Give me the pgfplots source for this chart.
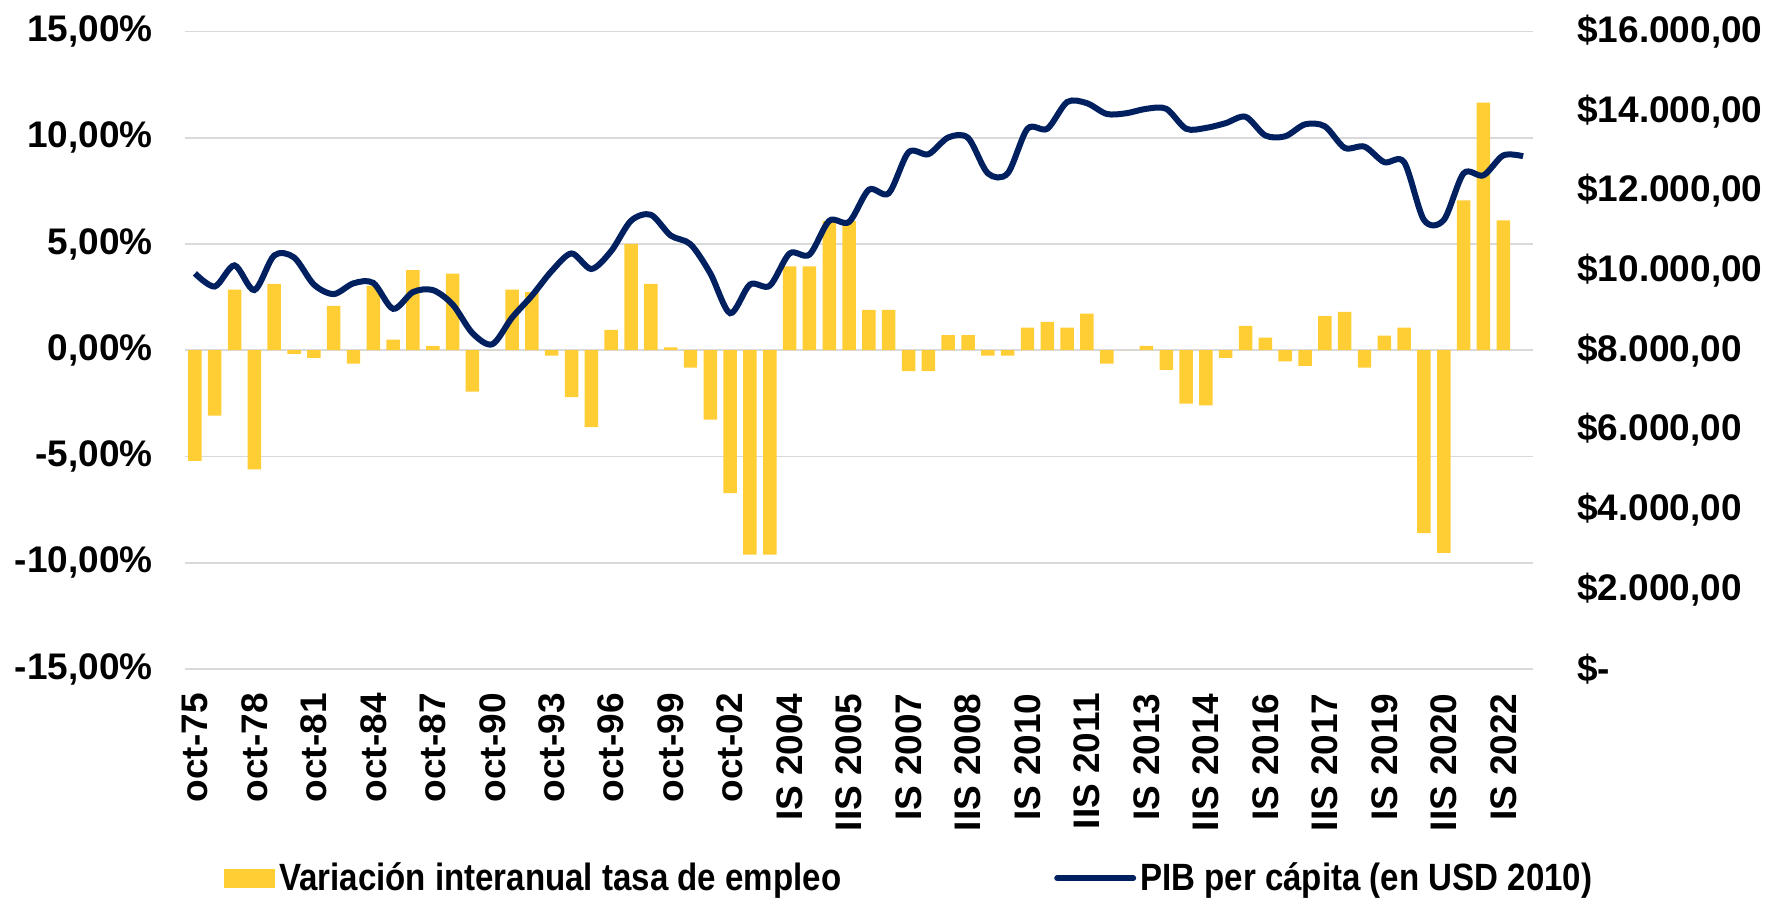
\documentclass[border=0pt]{standalone}
\usepackage{pgfplots}
\pgfplotsset{compat=1.18}
\usepackage{pgfplotstable}
\usepackage{fontspec}
\setmainfont{Liberation Sans}
\newfontfamily\legfont[FakeStretch=0.87]{Liberation Sans}
\definecolor{barcolor}{HTML}{FFCD34}
\definecolor{navy}{HTML}{002060}
\definecolor{gridgray}{HTML}{D9D9D9}

\pgfplotstableread{
x y
0 -5.21
1 -3.08
2 2.85
3 -5.61
4 3.12
5 -0.17
6 -0.36
7 2.09
8 -0.63
9 3.03
10 0.50
11 3.77
12 0.21
13 3.60
14 -1.95
15 0.00
16 2.85
17 2.74
18 -0.25
19 -2.20
20 -3.62
21 0.96
22 5.00
23 3.12
24 0.13
25 -0.82
26 -3.26
27 -6.72
28 -9.62
29 -9.62
30 3.95
31 3.95
32 6.09
33 6.09
34 1.90
35 1.90
36 -0.98
37 -0.98
38 0.71
39 0.71
40 -0.25
41 -0.25
42 1.07
43 1.34
44 1.07
45 1.72
46 -0.63
47 0.00
48 0.21
49 -0.92
50 -2.51
51 -2.59
52 -0.36
53 1.15
54 0.59
55 -0.52
56 -0.73
57 1.61
58 1.80
59 -0.82
60 0.69
61 1.07
62 -8.60
63 -9.54
64 7.05
65 11.65
66 6.11
}\empleo

\pgfplotstableread{
x y
0 9930
1 9600
2 10130
3 9510
4 10380
5 10330
6 9650
7 9410
8 9680
9 9690
10 9040
11 9460
12 9510
13 9150
14 8430
15 8150
16 8820
17 9370
18 9990
19 10430
20 10040
21 10490
22 11250
23 11400
24 10880
25 10660
26 9930
27 8930
28 9650
29 9620
30 10430
31 10400
32 11250
33 11220
34 12030
35 11940
36 12970
37 12920
38 13340
39 13330
40 12440
41 12440
42 13560
43 13560
44 14230
45 14200
46 13930
47 13950
48 14060
49 14060
50 13560
51 13580
52 13700
53 13860
54 13390
55 13370
56 13670
57 13620
58 13080
59 13110
60 12720
61 12720
62 11270
63 11270
64 12440
65 12390
66 12890
67 12870
}\pib

\begin{document}
\begin{tikzpicture}
\useasboundingbox (-92.5pt,-115.5pt) rectangle (790.5pt,334.5pt);
\pgfplotsset{
  common/.style={
    at={(0pt,0pt)}, anchor=south west,
    scale only axis, width=674pt, height=318.75pt,
    xmin=-0.5, xmax=67.5,
    axis line style={draw=none},
    major tick length=0pt, minor tick length=0pt,
    tick label style={font=\bfseries\fontsize{18.5pt}{20pt}\selectfont, inner sep=0pt},
  }
}
\begin{axis}[common,
  ymin=-15, ymax=15,
  ytick={-15,-10,-5,0,5,10,15},
  yticklabels={{-15,00\%},{-10,00\%},{-5,00\%},{0,00\%},{5,00\%},{10,00\%},{15,00\%}},
  yticklabel style={anchor=east, xshift=-16pt},
  ymajorgrids, grid style={draw=gridgray, line width=0.9pt},
  xtick={0,3,...,66},
  xticklabels={oct-75,oct-78,oct-81,oct-84,oct-87,oct-90,oct-93,oct-96,oct-99,oct-02,IS 2004,IIS 2005,IS 2007,IIS 2008,IS 2010,IIS 2011,IS 2013,IIS 2014,IS 2016,IIS 2017,IS 2019,IIS 2020,IS 2022},
  xticklabel style={yshift=-12pt, rotate=90, anchor=east},
]
\addplot[ybar, bar width=0.68, fill=barcolor, draw=none] table[x=x,y=y] {\empleo};
\end{axis}
\begin{axis}[common,
  ymin=0, ymax=16000,
  axis x line=none, axis y line*=right,
  scaled y ticks=false,
  ytick={0,2000,4000,6000,8000,10000,12000,14000,16000},
  yticklabels={{\$-},{\$2.000,00},{\$4.000,00},{\$6.000,00},{\$8.000,00},{\$10.000,00},{\$12.000,00},{\$14.000,00},{\$16.000,00}},
  yticklabel style={anchor=west, xshift=22pt},
  legend columns=2,
  legend style={at={(0.538,-0.328)}, anchor=center, draw=none, fill=none,
    font=\legfont\bfseries\fontsize{19pt}{21pt}\selectfont,
    inner sep=0pt, nodes={inner sep=2pt},
    /tikz/every even column/.append style={column sep=104.5pt}},
]
\addlegendimage{legend image code/.code={\fill[barcolor] (0pt,-4.5pt) rectangle (25pt,4.5pt);}}
\addlegendentry{Variación interanual tasa de empleo}
\addplot[navy, line width=3pt, smooth, tension=0.5, mark=none,
  legend image code/.code={\draw[navy, line width=3pt, line cap=round] (0pt,0pt) -- (38pt,0pt);}]
  table[x=x,y=y] {\pib};
\addlegendentry{PIB per cápita (en USD 2010)}
\end{axis}
\end{tikzpicture}
\end{document}
